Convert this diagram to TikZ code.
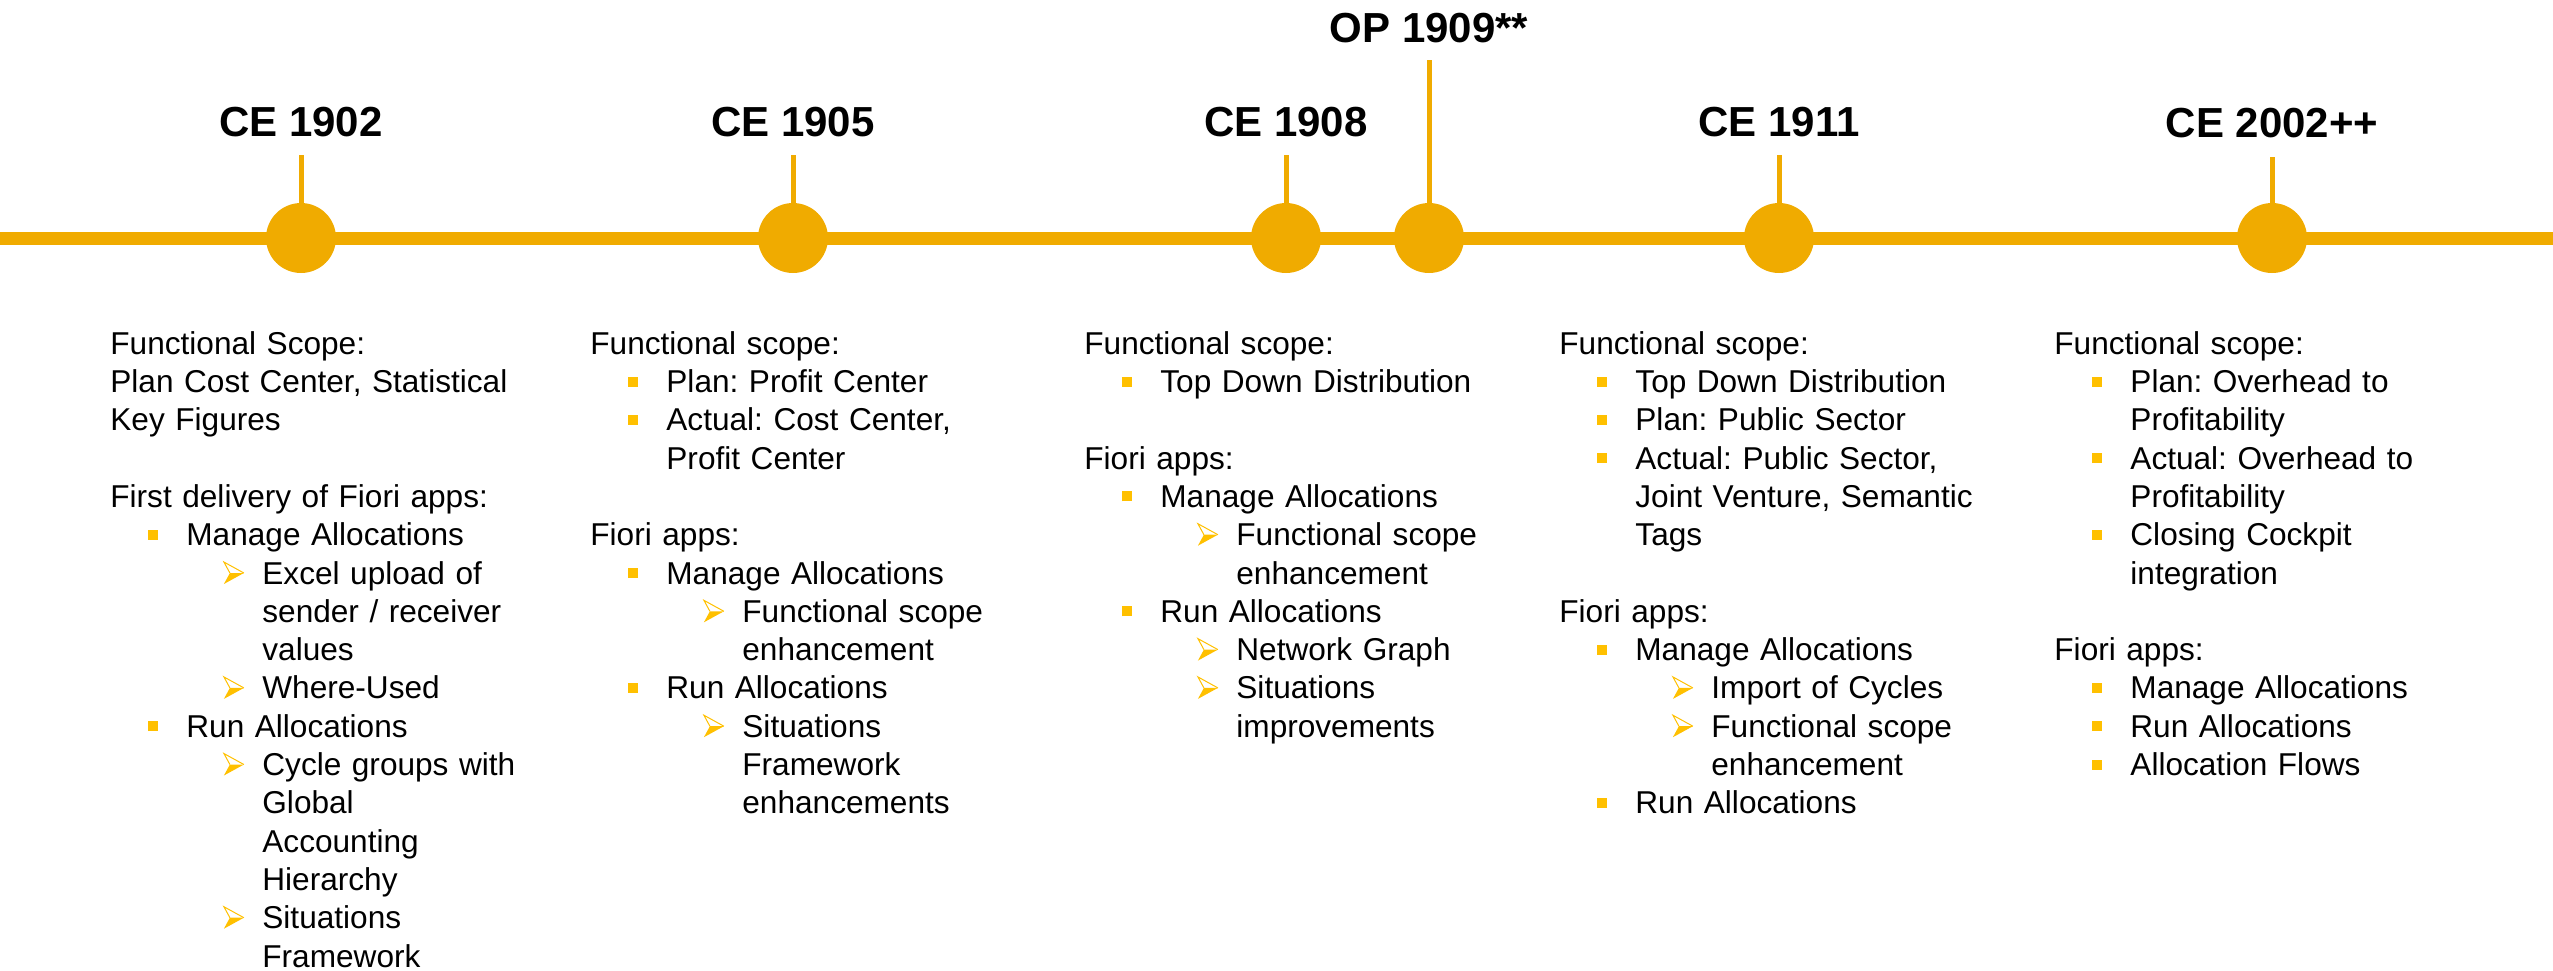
\documentclass[tikz,border=0pt]{standalone}
\usepackage{fontspec}
\setmainfont{Liberation Sans}
\frenchspacing

\definecolor{sapgold}{HTML}{F0AB00}
\definecolor{bulgold}{HTML}{FFC000}

% bullets of the two list levels
\newcommand\sqbul{\textcolor{bulgold}{\rule[3pt]{5pt}{5pt}}}
\newcommand\arrbul{\tikz[baseline=0pt,x=1pt,y=1pt,line width=0.5pt]{%
    \fill[bulgold] (3,5.5) -- (10,5.5) -- (0,0) -- cycle;
    \draw[bulgold] (3,5.5) -- (0,11) -- (10,5.5);}}
\newcommand\itemA[1]{\par{\leftskip=38pt\noindent\llap{\sqbul\hspace{14pt}}#1\par}}
\newcommand\itemB[1]{\par{\leftskip=76pt\noindent\llap{\arrbul\hspace{9pt}}#1\par}}
\newcommand\gap{\par\vspace{19.15pt}}

\begin{document}
\begin{tikzpicture}[x=0.5pt,y=-0.5pt,
    timeline/.style={line width=6.5pt,sapgold},
    tick/.style={line width=2.5pt,sapgold},
    milestone/.style={circle,fill=sapgold,minimum size=35pt,inner sep=0pt},
    release/.style={anchor=base,inner sep=0pt,font=\bfseries\fontsize{21pt}{25pt}\selectfont},
    scope/.style={anchor=north west,inner sep=0pt,text width=240pt,align=left,
      font=\fontsize{15.8pt}{19.15pt}\selectfont}]
  \useasboundingbox (0,0) rectangle (2553,970);

  \draw[timeline] (0,238) -- (2553,238);
  \foreach \id/\xx/\yt/\yl/\lab in {a/301/155/136/CE 1902, b/793/155/136/CE 1905,
      c/1286/155/136/CE 1908, d/1429/60/42/OP 1909**, e/1779/155/136/CE 1911,
      f/2272/157/137/CE 2002++}{
    \node[milestone] (m\id) at (\xx,238) {};
    \coordinate (t\id) at (\xx,\yt);
    \draw[tick] (t\id) -- (m\id);
    \node[release] (r\id) at (\xx,\yl) {\lab};
  }

  \node[scope] (sa) at (110,327) {\strut Functional Scope:\\
    Plan Cost Center, Statistical\\ Key Figures\gap
    First delivery of Fiori apps:
    \itemA{Manage Allocations}
    \itemB{Excel upload of\\ sender / receiver\\ values}
    \itemB{Where-Used}
    \itemA{Run Allocations}
    \itemB{Cycle groups with\\ Global\\ Accounting\\ Hierarchy}
    \itemB{Situations\\ Framework}};

  \node[scope] (sb) at (590,327) {\strut Functional scope:
    \itemA{Plan: Profit Center}
    \itemA{Actual: Cost Center,\\ Profit Center}\gap
    Fiori apps:
    \itemA{Manage Allocations}
    \itemB{Functional scope\\ enhancement}
    \itemA{Run Allocations}
    \itemB{Situations\\ Framework\\ enhancements}};

  \node[scope] (sc) at (1084,327) {\strut Functional scope:
    \itemA{Top Down Distribution}\gap
    Fiori apps:
    \itemA{Manage Allocations}
    \itemB{Functional scope\\ enhancement}
    \itemA{Run Allocations}
    \itemB{Network Graph}
    \itemB{Situations\\ improvements}};

  \node[scope] (se) at (1559,327) {\strut Functional scope:
    \itemA{Top Down Distribution}
    \itemA{Plan: Public Sector}
    \itemA{Actual: Public Sector,\\ Joint Venture, Semantic\\ Tags}\gap
    Fiori apps:
    \itemA{Manage Allocations}
    \itemB{Import of Cycles}
    \itemB{Functional scope\\ enhancement}
    \itemA{Run Allocations}};

  \node[scope] (sf) at (2054,327) {\strut Functional scope:
    \itemA{Plan: Overhead to\\ Profitability}
    \itemA{Actual: Overhead to\\ Profitability}
    \itemA{Closing Cockpit\\ integration}\gap
    Fiori apps:
    \itemA{Manage Allocations}
    \itemA{Run Allocations}
    \itemA{Allocation Flows}};
\end{tikzpicture}
\end{document}
